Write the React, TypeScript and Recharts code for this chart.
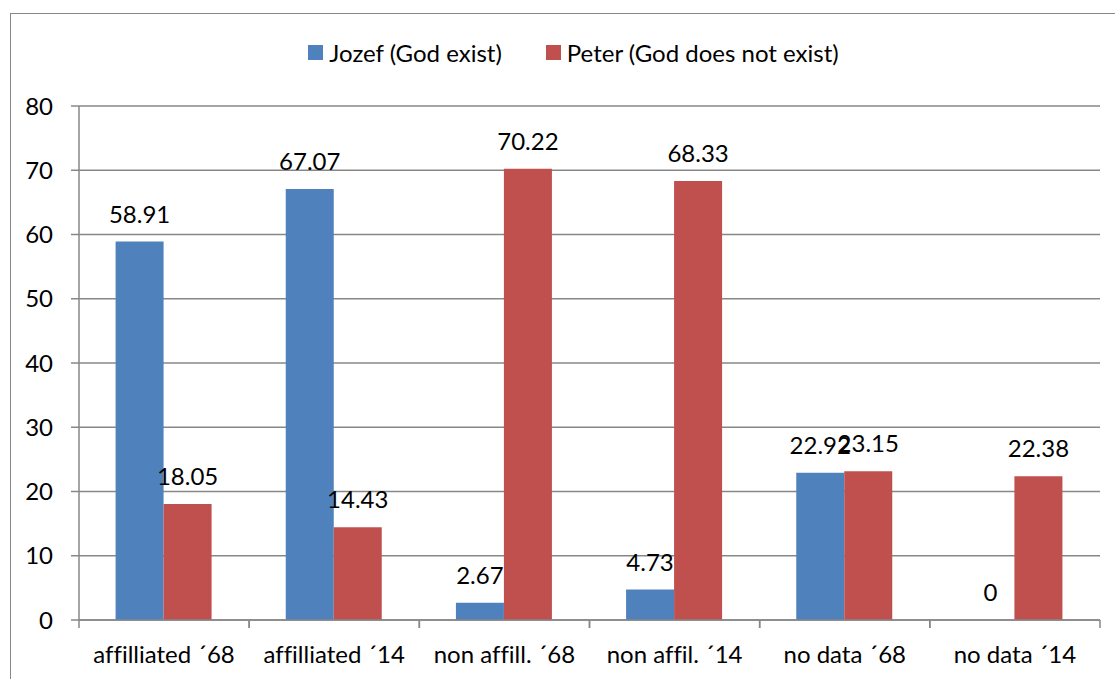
import React from 'react';
import { BarChart, Bar, XAxis, YAxis, CartesianGrid, LabelList } from 'recharts';

const categories = ['affilliated ´68', 'affilliated ´14', 'non affill. ´68', 'non affil. ´14', 'no data ´68', 'no data ´14'];
const jozef = [58.91, 67.07, 2.67, 4.73, 22.92, 0];
const peter = [18.05, 14.43, 70.22, 68.33, 23.15, 22.38];
const yTicks = [0, 10, 20, 30, 40, 50, 60, 70, 80];

const BLUE = '#4F81BD';
const RED = '#C0504D';
const GRID = '#878787';
const FONT = 'Lato, "Open Sans", sans-serif';
const FONT_SIZE = 24;

const WIDTH = 1115;
const HEIGHT = 679;
const MARGIN = { top: 106, right: 15, left: 0, bottom: 0 };
const Y_AXIS_W = 79;
const X_AXIS_H = 59;
const PLOT_BOTTOM = HEIGHT - MARGIN.bottom - X_AXIS_H;
const BAND = (WIDTH - MARGIN.right - MARGIN.left - Y_AXIS_W) / categories.length;

const data = categories.map((name, i) => ({ name, jozef: jozef[i], peter: peter[i] }));

const textStyle = { fontVariantLigatures: 'none' } as React.CSSProperties;

// category label plus tick marks on both edges of the band
const CategoryTick = (props: any) => {
  const { x, payload } = props;
  return (
    <g>
      <line x1={x - BAND / 2} x2={x - BAND / 2} y1={PLOT_BOTTOM} y2={PLOT_BOTTOM + 8} stroke={GRID} strokeWidth={1.5} />
      <line x1={x + BAND / 2} x2={x + BAND / 2} y1={PLOT_BOTTOM} y2={PLOT_BOTTOM + 8} stroke={GRID} strokeWidth={1.5} />
      <text x={x} y={PLOT_BOTTOM + 43} textAnchor="middle" fill="#000" fontSize={FONT_SIZE} fontFamily={FONT} style={textStyle}>
        {payload.value}
      </text>
    </g>
  );
};

const LegendItem = ({ color, label }: { color: string; label: string }) => (
  <div style={{ display: 'flex', alignItems: 'center', margin: '0 22px' }}>
    <div style={{ width: 15, height: 15, background: color, marginRight: 6 }} />
    <span style={{ fontSize: FONT_SIZE, fontFamily: FONT, color: '#000', ...textStyle }}>{label}</span>
  </div>
);

export default function App() {
  return (
    <div style={{ position: 'absolute', left: 0, top: 0, width: WIDTH, height: HEIGHT, overflow: 'hidden', background: '#fff' }}>
      <div
        style={{
          position: 'absolute',
          left: 10,
          top: 13,
          width: WIDTH + 20,
          height: HEIGHT + 20,
          border: `1.5px solid ${GRID}`,
        }}
      />
      <div
        style={{
          position: 'absolute',
          top: 38,
          left: 16,
          width: WIDTH,
          display: 'flex',
          justifyContent: 'center',
        }}
      >
        <LegendItem color={BLUE} label="Jozef (God exist)" />
        <LegendItem color={RED} label="Peter (God does not exist)" />
      </div>
      <div style={{ position: 'absolute', left: 0, top: 0 }}>
        <BarChart width={WIDTH} height={HEIGHT} data={data} margin={MARGIN} barCategoryGap="21.5%" barGap={0}>
          <CartesianGrid vertical={false} stroke={GRID} strokeWidth={1.5} />
          <XAxis
            dataKey="name"
            height={X_AXIS_H}
            axisLine={{ stroke: GRID, strokeWidth: 1.5 }}
            tickLine={false}
            tick={<CategoryTick />}
            interval={0}
          />
          <YAxis
            width={Y_AXIS_W}
            domain={[0, 80]}
            ticks={yTicks}
            interval={0}
            tickSize={8}
            tickMargin={18}
            axisLine={{ stroke: GRID, strokeWidth: 1.5 }}
            tickLine={{ stroke: GRID, strokeWidth: 1.5 }}
            tick={{ fill: '#000', fontSize: FONT_SIZE, fontFamily: FONT }}
          />
          {/* tiny minPointSize keeps the zero bar (and its "0" label) in the render */}
          <Bar dataKey="jozef" fill={BLUE} minPointSize={0.01} isAnimationActive={false}>
            <LabelList dataKey="jozef" position="top" offset={19} fill="#000" fontSize={FONT_SIZE} fontFamily={FONT} />
          </Bar>
          <Bar dataKey="peter" fill={RED} isAnimationActive={false}>
            <LabelList dataKey="peter" position="top" offset={19} fill="#000" fontSize={FONT_SIZE} fontFamily={FONT} />
          </Bar>
        </BarChart>
      </div>
    </div>
  );
}
